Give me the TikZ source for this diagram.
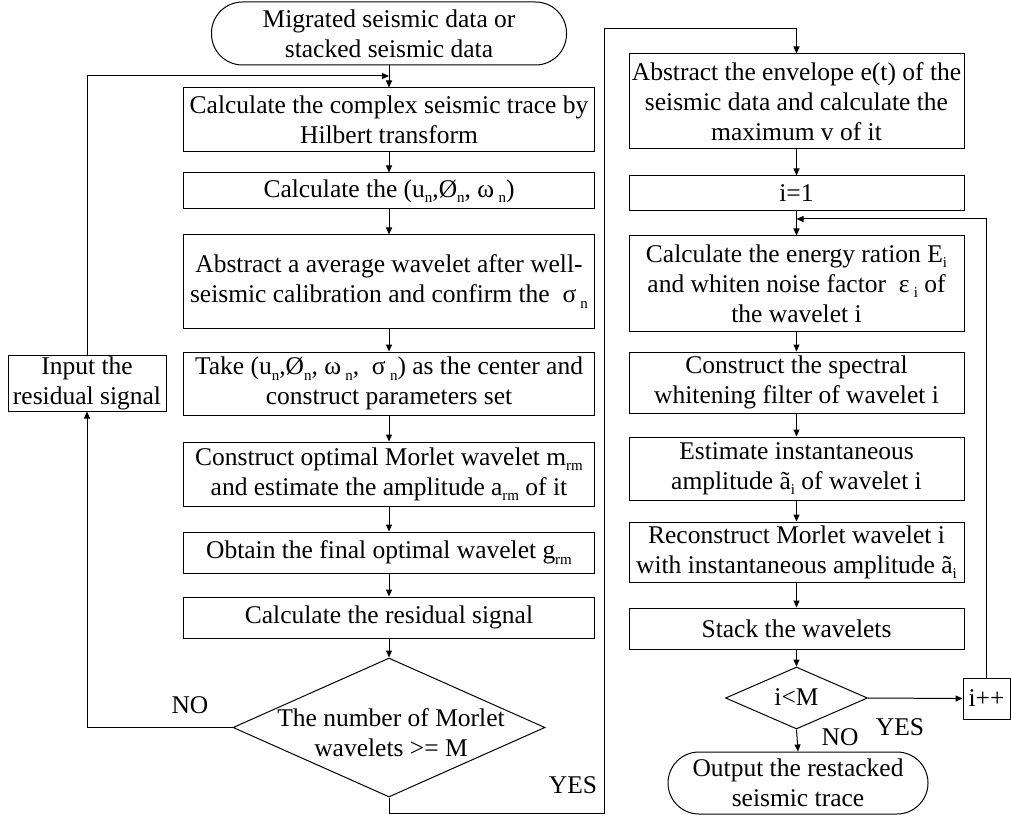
\documentclass[tikz,border=0pt]{standalone}
\usepackage{fontspec}
\setmainfont{Liberation Serif}
\usetikzlibrary{arrows.meta,shapes.geometric}
\newcommand\sbx[1]{\raisebox{-0.22em}{\fontsize{15}{15}\selectfont #1}}
\begin{document}
\begin{tikzpicture}[x=1pt,y=-1pt,
  every node/.style={font=\fontsize{25.5}{30}\selectfont},
  box/.style={draw, line width=1pt, align=center, inner sep=0pt},
  term/.style={box, rounded corners=31pt},
  dia/.style={draw, line width=1pt, diamond, inner sep=0pt},
  lbl/.style={inner sep=0pt},
  arr/.style={line width=1pt, -{Triangle[length=7pt,width=6pt]}},
  ln/.style={line width=1pt}]
\useasboundingbox (0,0) rectangle (1011,818);
% left column
\node[term, minimum width=355pt, minimum height=63pt] (t1) at (389,33.5) {Migrated seismic data or\\stacked seismic data};
\node[box, minimum width=411pt, minimum height=64pt] (b1) at (389,120) {Calculate the complex seismic trace by\\Hilbert transform};
\node[box, minimum width=411pt, minimum height=36pt] (b2) at (389,191) {Calculate the (u\sbx{n},Ø\sbx{n}, ω\,\sbx{n})};
\node[box, minimum width=411pt, minimum height=93pt] (b3) at (389,281.5) {Abstract a average wavelet after well-\\seismic calibration and confirm the\ \ σ\,\sbx{n}};
\node[box, minimum width=411pt, minimum height=63pt] (b4) at (389,383.5) {Take (u\sbx{n},Ø\sbx{n}, ω\,\sbx{n},\ \ σ\,\sbx{n}) as the center and\\construct parameters set};
\node[box, minimum width=411pt, minimum height=64pt] (b5) at (389,474) {Construct optimal Morlet wavelet m\sbx{rm}\\and estimate the amplitude a\sbx{rm} of it};
\node[box, minimum width=411pt, minimum height=41pt] (b6) at (389,552.5) {Obtain the final optimal wavelet g\sbx{rm}};
\node[box, minimum width=411pt, minimum height=41pt] (b7) at (389,617.5) {Calculate the residual signal};
\node[dia, minimum width=312pt, minimum height=139pt] (d1) at (389,727.5) {};
\node[lbl, align=center] (d1t) at (391,733) {The number of Morlet\\wavelets >= M};
\node[box, minimum width=158pt, minimum height=56pt] (inp) at (87,383) {Input the\\residual signal};
\node[lbl] (no1) at (190,705) {NO};
\node[lbl] (yes1) at (573,785) {YES};
% right column
\node[box, minimum width=335pt, minimum height=95pt] (r1) at (796.5,101.5) {Abstract the envelope e(t) of the\\seismic data and calculate the\\maximum v of it};
\node[box, minimum width=335pt, minimum height=35pt] (r2) at (796.5,193.5) {i=1};
\node[box, minimum width=335pt, minimum height=95pt] (r3) at (796.5,283.5) {Calculate the energy ration E\sbx{i}\\and whiten noise factor\ \ ε\,\sbx{i} of\\the wavelet i};
\node[box, minimum width=335pt, minimum height=61pt] (r4) at (796.5,382.5) {Construct the spectral\\whitening filter of wavelet i};
\node[box, minimum width=335pt, minimum height=63pt] (r5) at (796.5,468.5) {Estimate instantaneous\\amplitude ã\sbx{i} of wavelet i};
\node[box, minimum width=335pt, minimum height=60pt] (r6) at (796.5,552) {Reconstruct Morlet wavelet i\\with instantaneous amplitude ã\sbx{i}};
\node[box, minimum width=335pt, minimum height=41pt] (r7) at (796.5,628.5) {Stack the wavelets};
\node[dia, minimum width=142pt, minimum height=62pt] (d2) at (796.5,698) {};
\node[lbl] (d2t) at (796.5,697) {i<M};
\node[box, minimum width=47pt, minimum height=41pt] (inc) at (986.5,698.5) {i++};
\node[term, minimum width=260pt, minimum height=62pt] (t2) at (798,783) {Output the restacked\\seismic trace};
\node[lbl] (no2) at (840,737) {NO};
\node[lbl] (yes2) at (900,727) {YES};
% coordinates
\coordinate (j1) at (389,76);
\coordinate (c1) at (604,813);
\coordinate (c2) at (604,29);
\coordinate (j2) at (796.5,219);
% connectors left
\draw[arr] (t1.south) -- (b1.north);
\draw[arr] (b1.south) -- (b2.north);
\draw[arr] (b2.south) -- (b3.north);
\draw[arr] (b3.south) -- (b4.north);
\draw[arr] (b4.south) -- (b5.north);
\draw[arr] (b5.south) -- (b6.north);
\draw[arr] (b6.south) -- (b7.north);
\draw[arr] (b7.south) -- (d1.north);
\draw[arr] (d1.west) -| (inp.south);
\draw[arr] (inp.north) |- (j1);
\draw[arr] (d1.south) |- (c1) -- (c2) -| (r1.north);
% connectors right
\draw[arr] (r1.south) -- (r2.north);
\draw[arr] (r2.south) -- (r3.north);
\draw[arr] (r3.south) -- (r4.north);
\draw[arr] (r4.south) -- (r5.north);
\draw[arr] (r5.south) -- (r6.north);
\draw[arr] (r6.south) -- (r7.north);
\draw[arr] (r7.south) -- (d2.north);
\draw[arr] (d2.east) -- (inc.west);
\draw[arr] (inc.north) |- (j2);
\draw[arr] (d2.south) -- (t2.north);
\end{tikzpicture}
\end{document}
